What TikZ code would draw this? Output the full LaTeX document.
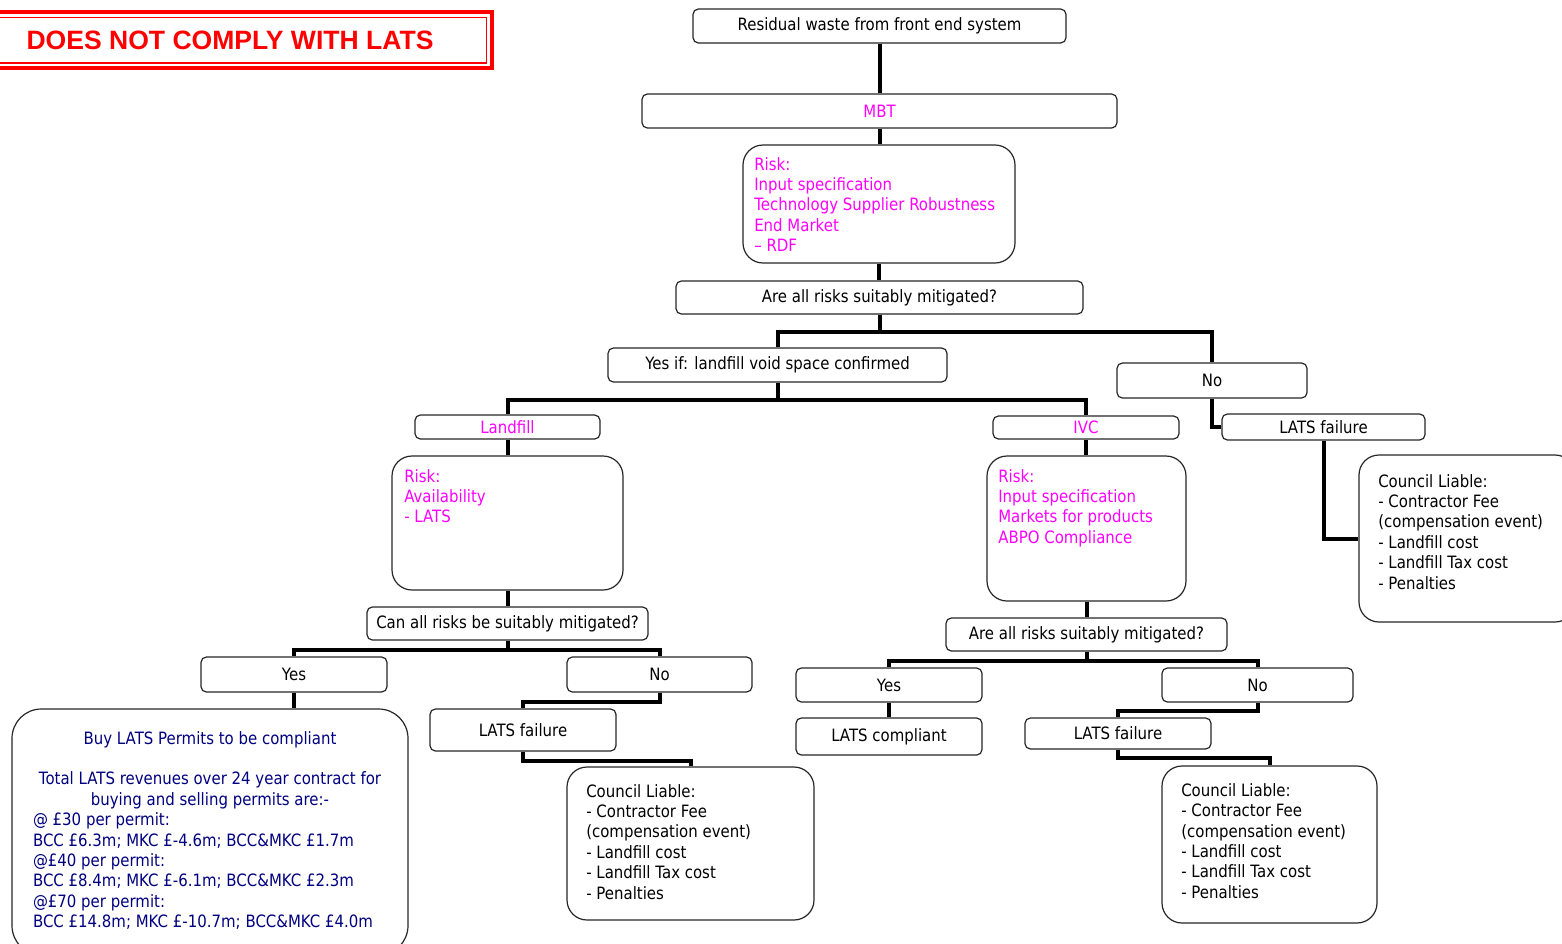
\documentclass[tikz,border=0pt]{standalone}
\usepackage{fontspec}
\setmainfont{DejaVu Sans}[FakeStretch=0.88]
\newfontfamily\titlefont{Liberation Sans}
\definecolor{navytext}{RGB}{0,0,128}
\definecolor{magtext}{RGB}{255,0,255}
\definecolor{redline}{RGB}{255,0,0}
\newcommand\normtext{\fontsize{12.75}{15.3}\selectfont}
\tikzset{
  rb/.style={draw=black!85, line width=0.9pt, rounded corners=4pt, fill=white, inner sep=0pt, font=\normtext},
  bigb/.style={rb, rounded corners=15pt},
  txt/.style={anchor=north west, inner sep=0pt, align=left, font=\normtext},
  conn/.style={line width=3pt}}
\begin{document}
\begin{tikzpicture}[x=0.75pt,y=-0.75pt]
\useasboundingbox (0,0) rectangle (1562,943);

% title
\draw[redline, line width=3pt] (-10,12) rectangle (492,68);
\draw[redline, line width=0.8pt] (-10,17.5) rectangle (486.5,63);
\node[font=\titlefont\bfseries\fontsize{19.9}{23}\selectfont, text=redline, inner sep=0pt] (title) at (230,40) {DOES NOT COMPLY WITH LATS};

% nodes
\node[rb, minimum width=373*0.75pt, minimum height=34*0.75pt] (top) at (879.5,26) {Residual waste from front end system};
\node[rb, minimum width=475*0.75pt, minimum height=34*0.75pt, text=magtext] (mbt) at (879.5,111) {MBT};
\node[bigb, minimum width=272*0.75pt, minimum height=118*0.75pt] (r1) at (879,204) {};
\node[txt, text=magtext] (r1t) at (754,157) {Risk:\\Input specification\\Technology Supplier Robustness\\End Market\\– RDF};
\node[rb, minimum width=407*0.75pt, minimum height=33*0.75pt] (q1) at (879.5,297.5) {Are all risks suitably mitigated?};
\node[rb, minimum width=339*0.75pt, minimum height=34*0.75pt] (yes1) at (777.5,365) {Yes if: landfill void space confirmed};
\node[rb, minimum width=190*0.75pt, minimum height=35*0.75pt] (no1) at (1212,380.5) {No};
\node[rb, minimum width=185*0.75pt, minimum height=24*0.75pt, text=magtext] (landfill) at (507.5,427) {Landfill};
\node[rb, minimum width=186*0.75pt, minimum height=23*0.75pt, text=magtext] (ivc) at (1086,427.5) {IVC};
\node[rb, minimum width=203*0.75pt, minimum height=26*0.75pt] (lf1) at (1323.5,427) {LATS failure};
\node[bigb, minimum width=216*0.75pt, minimum height=167*0.75pt] (cl1) at (1467,538.5) {};
\node[txt] (cl1t) at (1378,474) {Council Liable:\\- Contractor Fee\\(compensation event)\\- Landfill cost\\- Landfill Tax cost\\- Penalties};

\node[bigb, minimum width=231*0.75pt, minimum height=134*0.75pt] (lrisk) at (507.5,523) {};
\node[txt, text=magtext] (lriskt) at (404,469) {Risk:\\Availability\\- LATS};
\node[rb, minimum width=281*0.75pt, minimum height=33*0.75pt] (q2) at (507.5,623.5) {Can all risks be suitably mitigated?};
\node[rb, minimum width=186*0.75pt, minimum height=35*0.75pt] (yesL) at (294,674.5) {Yes};
\node[rb, minimum width=185*0.75pt, minimum height=35*0.75pt] (noL) at (659.5,674.5) {No};
\node[bigb, rounded corners=22pt, minimum width=396*0.75pt, minimum height=246*0.75pt] (buy) at (210,832) {};
\node[anchor=north, inner sep=0pt, text=navytext, font=\normtext] (buyt) at (210,731) {\parbox{300pt}{\centering Buy LATS Permits to be compliant\\[15.3pt]
Total LATS revenues over 24 year contract for\\buying and selling permits are:-\par
\raggedright\leftskip=17.25pt
@ £30 per permit:\\BCC £6.3m; MKC £-4.6m; BCC\&MKC £1.7m\\@£40 per permit:\\BCC £8.4m; MKC £-6.1m; BCC\&MKC £2.3m\\@£70 per permit:\\BCC £14.8m; MKC £-10.7m; BCC\&MKC £4.0m}};
\node[rb, minimum width=186*0.75pt, minimum height=42*0.75pt] (lfL) at (523,730) {LATS failure};
\node[bigb, minimum width=247*0.75pt, minimum height=153*0.75pt] (clL) at (690.5,843.5) {};
\node[txt] (clLt) at (586,784) {Council Liable:\\- Contractor Fee\\(compensation event)\\- Landfill cost\\- Landfill Tax cost\\- Penalties};

\node[bigb, minimum width=199*0.75pt, minimum height=145*0.75pt] (irisk) at (1086.5,528.5) {};
\node[txt, text=magtext] (iriskt) at (998,469) {Risk:\\Input specification\\Markets for products\\ABPO Compliance};
\node[rb, minimum width=281*0.75pt, minimum height=33*0.75pt] (q3) at (1086.5,634.5) {Are all risks suitably mitigated?};
\node[rb, minimum width=186*0.75pt, minimum height=34*0.75pt] (yesR) at (889,685) {Yes};
\node[rb, minimum width=191*0.75pt, minimum height=34*0.75pt] (noR) at (1257.5,685) {No};
\node[rb, minimum width=186*0.75pt, minimum height=37*0.75pt] (lc) at (889,736.5) {LATS compliant};
\node[rb, minimum width=186*0.75pt, minimum height=31*0.75pt] (lfR) at (1118,733.5) {LATS failure};
\node[bigb, minimum width=215*0.75pt, minimum height=157*0.75pt] (clR) at (1269.5,844.5) {};
\node[txt] (clRt) at (1181,783) {Council Liable:\\- Contractor Fee\\(compensation event)\\- Landfill cost\\- Landfill Tax cost\\- Penalties};

% connectors
\draw[conn] (top.south) -- (top.south |- mbt.north);
\draw[conn] (mbt.south) -- (mbt.south |- r1.north);
\draw[conn] (r1.south) -- (r1.south |- q1.north);
\draw[conn] (q1.south) -- ++(0,17) -| (yes1.north);
\draw[conn] (q1.south) -- ++(0,17) -| (no1.north);
\draw[conn] (yes1.south) -- ++(0,17) -| (landfill.north);
\draw[conn] (yes1.south) -- ++(0,17) -| (ivc.north);
\draw[conn] (no1.south) |- (lf1.west);
\draw[conn] (lf1.south) |- (cl1.west);

\draw[conn] (landfill.south) -- (landfill.south |- lrisk.north);
\draw[conn] (lrisk.south) -- (lrisk.south |- q2.north);
\draw[conn] (q2.south) -- ++(0,9) -| (yesL.north);
\draw[conn] (q2.south) -- ++(0,9) -| (noL.north);
\draw[conn] (yesL.south) -- (yesL.south |- buy.north);
\draw[conn] (noL.south) -- ++(0,9) -| (lfL.north);
\draw[conn] (lfL.south) -- ++(0,9) -| (clL.north);

\draw[conn] (ivc.south) -- (ivc.south |- irisk.north);
\draw[conn] (irisk.south) -- (irisk.south |- q3.north);
\draw[conn] (q3.south) -- ++(0,9) -| (yesR.north);
\draw[conn] (q3.south) -- ++(0,9) -| (noR.north);
\draw[conn] (yesR.south) -- (yesR.south |- lc.north);
\draw[conn] (noR.south) -- ++(0,8) -| (lfR.north);
\draw[conn] (lfR.south) -- ++(0,8) -| (clR.north);
\end{tikzpicture}
\end{document}
